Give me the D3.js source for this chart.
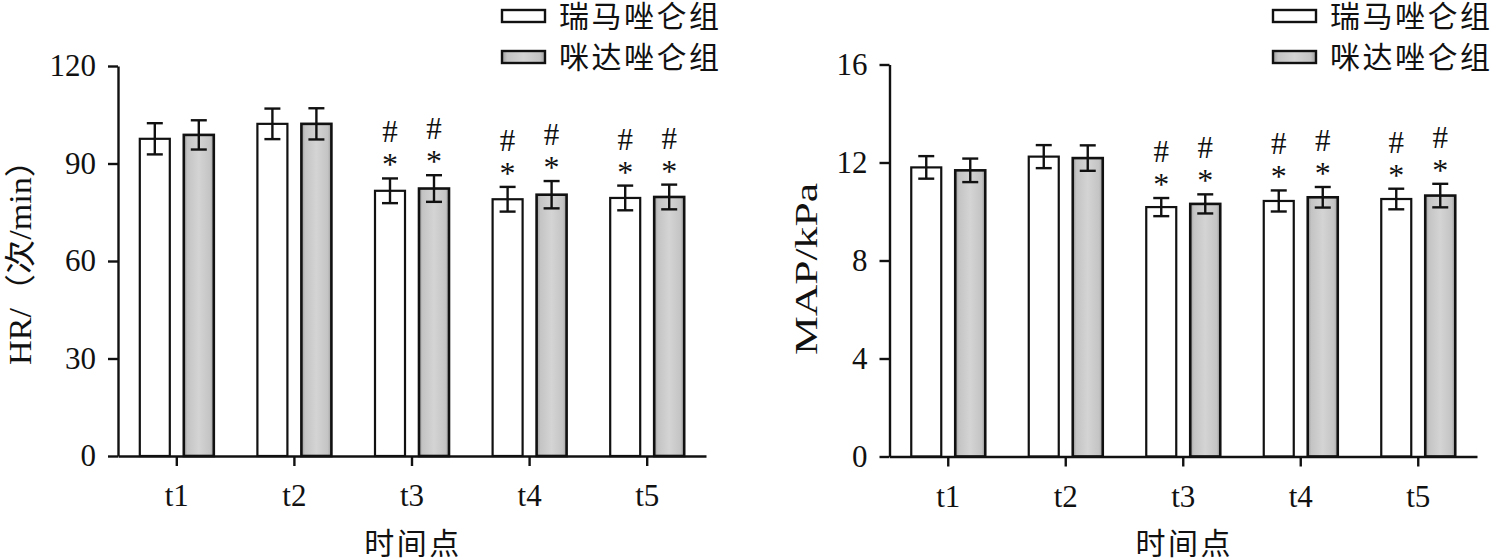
<!DOCTYPE html>
<html><head><meta charset="utf-8">
<script src="https://cdn.jsdelivr.net/npm/d3@7"></script>
<style>
html,body{margin:0;padding:0;background:#fff;}
svg{display:block;}
text{font-family:"Liberation Serif","Noto Sans CJK SC",serif;fill:#111;}
</style></head>
<body>
<svg id="chart" width="1495" height="559"></svg>
<script>
// ---- data ----
const categories = ["t1", "t2", "t3", "t4", "t5"];
const seriesNames = ["瑞马唑仑组", "咪达唑仑组"];
const hrRemimazolam = [97.6, 102.2, 81.6, 79.0, 79.4];
const hrRemimazolamSD = [4.8, 4.7, 3.8, 3.8, 3.8];
const hrMidazolam = [98.8, 102.2, 82.3, 80.4, 79.7];
const hrMidazolamSD = [4.5, 4.8, 4.1, 4.2, 3.8];
const mapRemimazolam = [11.80, 12.24, 10.18, 10.43, 10.51];
const mapRemimazolamSD = [0.46, 0.47, 0.37, 0.43, 0.42];
const mapMidazolam = [11.68, 12.18, 10.31, 10.58, 10.65];
const mapMidazolamSD = [0.48, 0.52, 0.39, 0.42, 0.48];
const hrTicks = [0, 30, 60, 90, 120];
const mapTicks = [0, 4, 8, 12, 16];
const starMarks = ["", "", "*", "*", "*"];
const hashMarks = ["", "", "#", "#", "#"];
const xTitle = "时间点";
const hrTitle = "HR/（次/min）";
const mapTitle = "MAP/kPa";

const svg = d3.select("#chart");
const defs = svg.append("defs");
const grad = defs.append("linearGradient").attr("id", "grayGrad")
  .attr("x1", "0%").attr("x2", "100%").attr("y1", "0%").attr("y2", "0%");
[[0, "#9c9c9c"], [0.12, "#c4c4c4"], [0.5, "#d4d4d4"], [0.88, "#c4c4c4"], [1, "#9c9c9c"]]
  .forEach(([o, c]) => grad.append("stop").attr("offset", o).attr("stop-color", c));

function panel(opt) {
  const g = svg.append("g");
  const x = d3.scaleBand().domain(categories).range([opt.x0, opt.x1]).padding(0);
  const inner = d3.scaleBand().domain([0, 1]).range([-37, 37]).paddingInner(0.318).paddingOuter(0);
  const y = d3.scaleLinear().domain([opt.ticks[0], opt.ticks[opt.ticks.length - 1]]).range([opt.yBottom, opt.yTop]);

  const series = [
    { vals: opt.a, sd: opt.aSD, fill: "#ffffff", sw: 2.2 },
    { vals: opt.b, sd: opt.bSD, fill: "url(#grayGrad)", sw: 2.6 }
  ];

  series.forEach((s, si) => {
    categories.forEach((c, i) => {
      const cx = x(c) + x.bandwidth() / 2;
      const bx = cx + inner(si);
      const bw = inner.bandwidth();
      g.append("rect").attr("x", bx).attr("y", y(s.vals[i]))
        .attr("width", bw).attr("height", y(0) - y(s.vals[i]))
        .attr("fill", s.fill).attr("stroke", "#111").attr("stroke-width", s.sw);
      const mx = bx + bw / 2;
      const top = y(s.vals[i] + s.sd[i]), bot = y(s.vals[i] - s.sd[i]);
      g.append("line").attr("x1", mx).attr("x2", mx).attr("y1", top).attr("y2", bot)
        .attr("stroke", "#111").attr("stroke-width", 2.4);
      [top, bot].forEach(yy => g.append("line").attr("x1", mx - 8).attr("x2", mx + 8)
        .attr("y1", yy).attr("y2", yy).attr("stroke", "#111").attr("stroke-width", 2.4));
      if (starMarks[i]) {
        g.append("text").attr("x", mx).attr("y", top - 3).attr("text-anchor", "middle")
          .style("font-size", "32px").text(starMarks[i]);
      }
      if (hashMarks[i]) {
        g.append("text").attr("x", mx).attr("y", top - 36).attr("text-anchor", "middle")
          .style("font-size", "31px").text(hashMarks[i]);
      }
    });
  });

  // axes
  const ya = g.append("g").attr("transform", `translate(${opt.x0},0)`)
    .call(d3.axisLeft(y).tickValues(opt.ticks).tickSize(10).tickSizeOuter(0).tickPadding(12));
  ya.select(".domain").attr("stroke", "#111").attr("stroke-width", 2.4);
  ya.selectAll(".tick line").attr("stroke", "#111").attr("stroke-width", 2.4);
  ya.selectAll(".tick text").style("font-size", "31px").style("font-family", "Liberation Serif").attr("fill", "#111");

  const xa = g.append("g").attr("transform", `translate(0,${opt.yBottom})`)
    .call(d3.axisBottom(x).tickSize(10).tickSizeOuter(0).tickPadding(18));
  xa.select(".domain").attr("stroke", "#111").attr("stroke-width", 2.4);
  xa.selectAll(".tick line").attr("stroke", "#111").attr("stroke-width", 2.4);
  xa.selectAll(".tick text").style("font-size", "31px").style("font-family", "Liberation Serif").attr("fill", "#111");

  g.append("text").attr("x", (opt.x0 + opt.x1) / 2 + 1).attr("y", 554)
    .attr("text-anchor", "middle").style("font-size", "30px").style("letter-spacing", "2.5px")
    .text(xTitle);

  g.append("text").attr("transform", `translate(${opt.titleX},${opt.titleY}) rotate(-90)`)
    .attr("text-anchor", "middle").style("font-size", "31px")
    .attr("textLength", opt.titleLen).attr("lengthAdjust", "spacingAndGlyphs")
    .text(opt.title);

  // legend
  seriesNames.forEach((n, i) => {
    const ly = 16 + i * 41;
    g.append("rect").attr("x", opt.legX).attr("y", ly - 6).attr("width", 43).attr("height", 12)
      .attr("fill", i === 0 ? "#fff" : "url(#grayGrad)").attr("stroke", "#111").attr("stroke-width", 2.4);
    g.append("text").attr("x", opt.legX + 57).attr("y", ly + 11)
      .style("font-size", "30px").style("letter-spacing", "2.5px").text(n);
  });
}

panel({ x0: 118, x1: 706, yBottom: 456, yTop: 66, ticks: hrTicks,
  a: hrRemimazolam, aSD: hrRemimazolamSD, b: hrMidazolam, bSD: hrMidazolamSD,
  title: hrTitle, titleX: 31, titleY: 254, titleLen: 222, legX: 502 });
panel({ x0: 889.5, x1: 1477, yBottom: 456.5, yTop: 64.5, ticks: mapTicks,
  a: mapRemimazolam, aSD: mapRemimazolamSD, b: mapMidazolam, bSD: mapMidazolamSD,
  title: mapTitle, titleX: 817, titleY: 269, titleLen: 172, legX: 1273 });
</script>
</body></html>
